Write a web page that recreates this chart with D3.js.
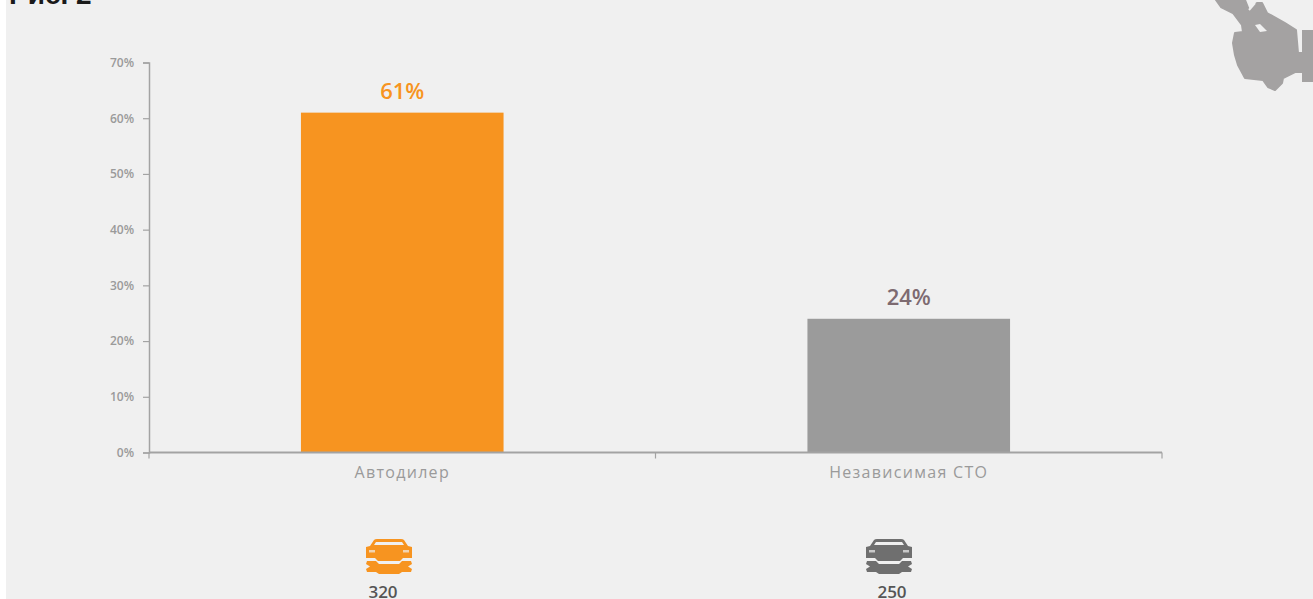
<!DOCTYPE html>
<html lang="ru">
<head>
<meta charset="utf-8">
<script src="https://cdn.jsdelivr.net/npm/d3@7"></script>
<style>
  html, body { margin: 0; padding: 0; background: #fff; overflow: hidden; }
  svg { display: block; font-family: "Open Sans", sans-serif; }
</style>
</head>
<body>
<svg id="chart" width="1313" height="599"></svg>
<script>
const categories = ["Автодилер", "Независимая СТО"];
const shares = [61, 24];
const counts = [320, 250];
const barColors = ["#f79420", "#9b9b9b"];
const labelColors = ["#f79420", "#7d6a70"];
const iconColors = ["#f79420", "#6f6f6f"];
const yTicks = [0, 10, 20, 30, 40, 50, 60, 70];
const figureTitle = "Рис. 2";

const svg = d3.select("#chart");
const panel = "#f0f0f0";

// Page panel
svg.append("rect").attr("x", 6).attr("y", 0).attr("width", 1307).attr("height", 599).attr("fill", panel);

// Figure caption, running off the top edge
svg.append("text").attr("x", 9).attr("y", 4)
  .attr("font-family", "'Liberation Sans', sans-serif")
  .attr("font-size", 28).attr("font-weight", 700).attr("fill", "#1a1a1a")
  .text(figureTitle);

const x = d3.scaleBand().domain(categories).range([149, 1162]).paddingInner(0.6).paddingOuter(0.3);
const y = d3.scaleLinear().domain([0, 70]).range([452.5, 62.5]);

const axisColor = "#a3a3a3";

// Value axis
const yAxis = svg.append("g").attr("transform", "translate(149,0)")
  .call(d3.axisLeft(y).tickValues(yTicks).tickSize(6).tickPadding(9).tickFormat(d => d + "%"));
yAxis.select(".domain").attr("stroke", axisColor).attr("stroke-width", 1.5);
yAxis.selectAll(".tick line").attr("stroke", axisColor).attr("stroke-width", 1.2);
yAxis.selectAll(".tick text").attr("fill", "#9a9a9a").attr("font-size", 12)
  .attr("font-weight", 600).attr("font-family", "'Open Sans', sans-serif");

// Bars
svg.selectAll("rect.bar").data(categories).join("rect").attr("class", "bar")
  .attr("x", d => x(d))
  .attr("width", x.bandwidth())
  .attr("y", (d, i) => y(shares[i]))
  .attr("height", (d, i) => y(0) - y(shares[i]))
  .attr("fill", (d, i) => barColors[i]);

// Category axis, with ticks on the band boundaries
const step = x.step();
const xLine = svg.append("g");
xLine.append("line").attr("x1", 149).attr("x2", 1162).attr("y1", y(0)).attr("y2", y(0))
  .attr("stroke", axisColor).attr("stroke-width", 1.8);
[0, 1, 2].forEach(i => {
  const px = x(categories[0]) - step * 0.3 + step * i;
  xLine.append("line").attr("x1", px).attr("x2", px).attr("y1", y(0)).attr("y2", y(0) + 6)
    .attr("stroke", axisColor).attr("stroke-width", 1.2);
});

// Value labels
svg.selectAll("text.value").data(categories).join("text").attr("class", "value")
  .attr("x", d => x(d) + x.bandwidth() / 2)
  .attr("y", (d, i) => y(shares[i]) - 14)
  .attr("text-anchor", "middle").attr("font-size", 22).attr("font-weight", 600)
  .attr("fill", (d, i) => labelColors[i])
  .text((d, i) => shares[i] + "%");

// Category labels
svg.selectAll("text.cat").data(categories).join("text").attr("class", "cat")
  .attr("x", d => x(d) + x.bandwidth() / 2)
  .attr("y", 478)
  .attr("text-anchor", "middle").attr("font-size", 16).attr("font-weight", 400)
  .attr("letter-spacing", 1.3)
  .attr("fill", "#9a9a9a")
  .text(d => d);

// Car-and-wrench pictogram, 46 wide, 36 high, origin at the top centre
function drawCar(g, color) {
  g.append("path").attr("fill", color).attr("d",
    "M-15,1 Q-14,0 -12,0 L12,0 Q14,0 15,1 L19,7 L23,8 L23,19 L14,19 L11,22 L-11,22 L-14,19 L-23,19 L-23,8 L-19,7 Z");
  g.append("path").attr("fill", panel).attr("d", "M-13,3 L13,3 L15,6 L-15,6 Z");
  g.append("rect").attr("x", -20).attr("y", 11).attr("width", 6).attr("height", 2.5).attr("fill", panel).attr("opacity", 0.7);
  g.append("rect").attr("x", 14).attr("y", 11).attr("width", 6).attr("height", 2.5).attr("fill", panel).attr("opacity", 0.7);
  g.append("path").attr("fill", color).attr("d",
    "M-22,22 L-13,22 L-10,25 L10,25 L13,22 L22,22 L23,25 L19,27.5 L23,30 L22,33 L13,33 L10,35 L-10,35 L-13,33 L-22,33 L-23,30 L-19,27.5 L-23,25 Z");
}

const iconCenters = [389, 889];
const countCenters = [383, 892];
categories.forEach((c, i) => {
  drawCar(svg.append("g").attr("transform", `translate(${iconCenters[i]},539)`), iconColors[i]);
  svg.append("text").attr("x", countCenters[i]).attr("y", 598)
    .attr("text-anchor", "middle").attr("font-size", 17).attr("font-weight", 600)
    .attr("fill", "#555").text(counts[i]);
});

// Hand holding a wrench, cropped by the top right corner
const hand = svg.append("g").attr("fill", "#a4a2a2");
hand.append("path").attr("stroke", "#a4a2a2").attr("stroke-width", 2).attr("stroke-linejoin", "round").attr("d",
  "M1216,0 L1221,7 L1233,13 L1242,25 L1243,32 L1235,33 L1233,43 L1235,55 L1238,65 L1245,78 L1263,80 L1268,87 L1275,90 L1282,83 L1283,78 L1295,72 L1302,72 L1302,53 L1298,53 L1296,30 L1285,23 L1267,13 L1262,3 L1257,3 L1249,10 L1245,0 Z");
hand.append("rect").attr("x", 1302).attr("y", 30).attr("width", 11).attr("height", 52);
hand.append("path").attr("fill", panel).attr("d", "M1255,25 L1260,24 L1267,31 L1260,32 Z");
hand.append("line").attr("x1", 1255).attr("y1", 3).attr("x2", 1249).attr("y2", 10).attr("stroke", panel).attr("stroke-width", 2);
</script>
</body>
</html>
